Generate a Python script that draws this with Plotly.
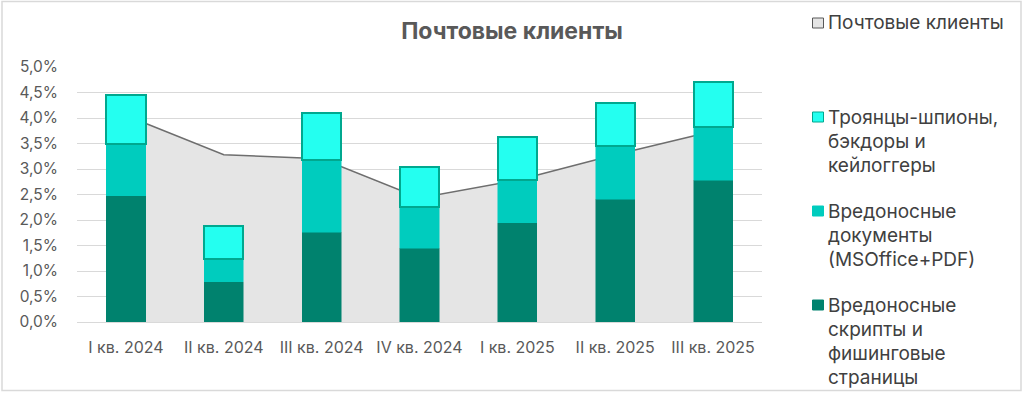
import plotly.graph_objects as go

categories = ["I кв. 2024", "II кв. 2024", "III кв. 2024", "IV кв. 2024",
              "I кв. 2025", "II кв. 2025", "III кв. 2025"]
mail_clients = [4.05, 3.28, 3.20, 2.43, 2.78, 3.28, 3.74]
scripts_phishing = [2.48, 0.79, 1.76, 1.45, 1.95, 2.41, 2.78]
malicious_docs = [1.02, 0.45, 1.41, 0.81, 0.83, 1.05, 1.05]
trojans = [0.96, 0.65, 0.92, 0.77, 0.85, 0.84, 0.87]
y_ticks = [0, 0.5, 1, 1.5, 2, 2.5, 3, 3.5, 4, 4.5, 5]
y_tick_labels = [f"{v:.1f}".replace(".", ",") + "%" for v in y_ticks]

FONT = "Inter"
C_DARK = "#00826E"
C_MID = "#00CCBE"
C_LIGHT = "#24FFF0"
C_EDGE = "#00A88F"
C_AREA = "#E5E5E5"

W, H = 1024, 393
L, R, T, B = 77, 762, 67, 322  # plot area in pixels


def px(x):
    return (x - L) / (R - L)


def py(y):
    return (B - y) / (B - T)


fig = go.Figure()

fig.add_trace(go.Scatter(
    x=categories, y=mail_clients, mode="lines", fill="tozeroy",
    fillcolor=C_AREA, line=dict(color="#6E6E6E", width=1.5),
    name="Почтовые клиенты", showlegend=False, xaxis="x", yaxis="y"))

fig.add_trace(go.Bar(
    x=categories, y=scripts_phishing, marker=dict(color=C_DARK, line=dict(color=C_DARK, width=0.5)),
    name="Вредоносные скрипты и фишинговые страницы", showlegend=False, xaxis="x", yaxis="y2"))
fig.add_trace(go.Bar(
    x=categories, y=malicious_docs, marker=dict(color=C_MID, line=dict(color=C_MID, width=0.5)),
    name="Вредоносные документы (MSOffice+PDF)", showlegend=False, xaxis="x", yaxis="y2"))
fig.add_trace(go.Bar(
    x=categories, y=trojans, marker=dict(color=C_LIGHT, line=dict(color=C_EDGE, width=2)),
    name="Троянцы-шпионы, бэкдоры и кейлоггеры", showlegend=False, xaxis="x", yaxis="y2"))

shapes = [dict(type="rect", xref="paper", yref="paper",
               x0=px(2), x1=px(1021), y0=py(390.5), y1=py(1.5),
               line=dict(color="#D9D9D9", width=1.5), fillcolor="rgba(0,0,0,0)", layer="below")]
annotations = []

legend_items = [
    (C_AREA, "#595959", 23, ["Почтовые клиенты"]),
    (C_LIGHT, C_EDGE, 117, ["Троянцы-шпионы,", "бэкдоры и", "кейлоггеры"]),
    (C_MID, C_MID, 211, ["Вредоносные", "документы", "(MSOffice+PDF)"]),
    (C_DARK, C_DARK, 305, ["Вредоносные", "скрипты и", "фишинговые", "страницы"]),
]
for fill, edge, y0, lines in legend_items:
    shapes.append(dict(type="rect", xref="paper", yref="paper",
                       x0=px(812.5), x1=px(823.5), y0=py(y0 + 5), y1=py(y0 - 5),
                       fillcolor=fill, line=dict(color=edge, width=1)))
    for i, t in enumerate(lines):
        annotations.append(dict(text=t, xref="paper", yref="paper",
                                x=px(826), y=py(y0 + i * 24), xanchor="left", yanchor="middle",
                                showarrow=False, font=dict(family=FONT, size=19, color="#404040")))

fig.update_layout(
    width=W, height=H,
    margin=dict(l=L, r=W - R, t=T, b=H - B, autoexpand=False),
    paper_bgcolor="white", plot_bgcolor="white",
    barmode="stack", bargap=0.6,
    showlegend=False,
    title=dict(text="<b>Почтовые клиенты</b>", x=0.5, xref="container", xanchor="center",
               y=1 - 31 / H, yref="container", yanchor="middle",
               font=dict(family=FONT, size=23, color="#595959")),
    font=dict(family=FONT, size=15, color="#595959"),
    xaxis=dict(showgrid=False, showline=False, zeroline=False, ticks="",
               tickfont=dict(family=FONT, size=16, color="#595959"), ticklabelstandoff=14),
    yaxis=dict(range=[0, 5], tickvals=y_ticks, ticktext=y_tick_labels,
               showgrid=True, gridcolor="#D9D9D9", gridwidth=1.3, zeroline=True,
               zerolinecolor="#D9D9D9", zerolinewidth=1.3, showline=False, ticks="",
               tickfont=dict(family=FONT, size=15.5, color="#595959"), ticklabelstandoff=18),
    yaxis2=dict(range=[0, 5], overlaying="y", visible=False, showgrid=False, zeroline=False),
    shapes=shapes, annotations=annotations,
)

fig.write_html("out.html", config={"displayModeBar": False},
               post_script="document.body.style.margin='0';document.body.style.padding='0';")
